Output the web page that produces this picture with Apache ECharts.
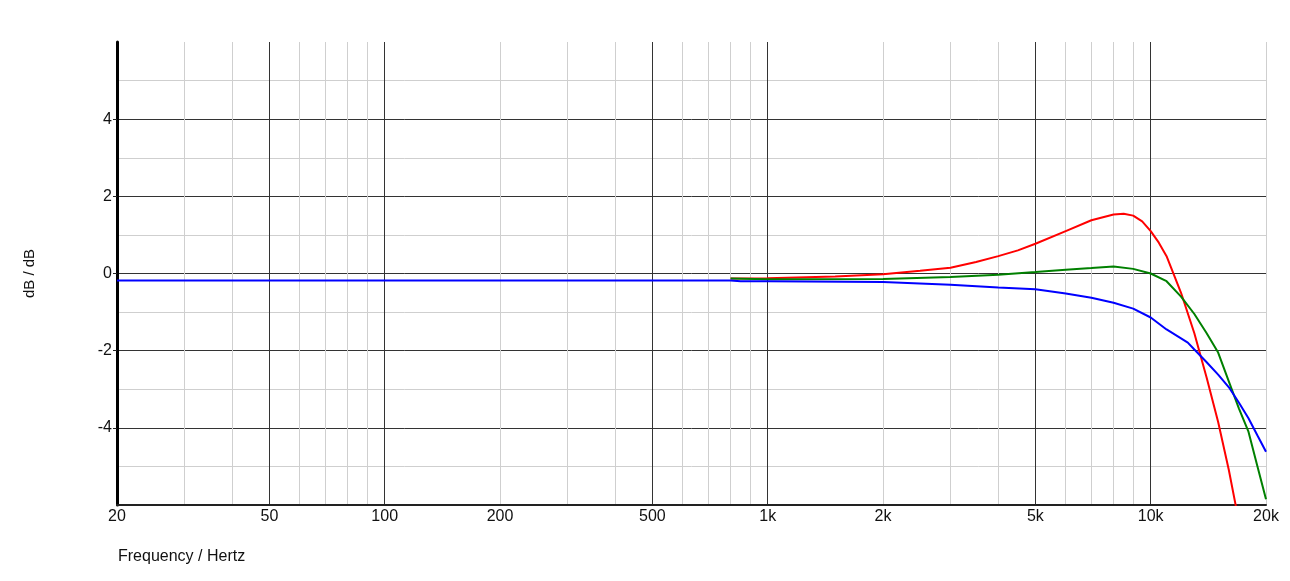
<!DOCTYPE html>
<html>
<head>
<meta charset="utf-8">
<title>Frequency response</title>
<script src="https://cdn.jsdelivr.net/npm/echarts@6/dist/echarts.min.js"></script>
<style>
    html, body { margin: 0; padding: 0; background: #fff; }
    #chart { width: 1290px; height: 581px; }
</style>
</head>
<body>
<div id="chart"></div>
<script>
    // grid lines and tick labels
    var majorFreqs = [50, 100, 500, 1000, 5000, 10000];
    var minorFreqs = [30, 40, 60, 70, 80, 90, 200, 300, 400, 600, 700, 800, 900,
        2000, 3000, 4000, 6000, 7000, 8000, 9000, 20000];
    var labelFreqs = [20, 50, 100, 200, 500, 1000, 2000, 5000, 10000, 20000];
    var yLabels = [-4, -2, 0, 2, 4];

    // red curve
    var redFreq = [800, 1000, 1500, 2000, 2500, 3000, 3500, 4000, 4500, 5000, 6000, 7000, 8000,
        8500, 9000, 9500, 10000, 10500, 11000, 12000, 13000, 14000, 15000, 16000, 16700];
    var redDb = [-0.13, -0.12, -0.08, -0.02, 0.07, 0.15, 0.3, 0.45, 0.6, 0.77, 1.1, 1.38, 1.53,
        1.55, 1.5, 1.35, 1.1, 0.8, 0.45, -0.5, -1.55, -2.7, -3.85, -5.1, -6.05];

    // green curve
    var greenFreq = [800, 1000, 2000, 3000, 4000, 5000, 6000, 7000, 8000, 9000, 10000,
        11000, 12000, 13000, 14000, 15000, 16000, 17000, 18000, 19000, 20000];
    var greenDb = [-0.13, -0.15, -0.14, -0.09, -0.03, 0.04, 0.1, 0.14, 0.18, 0.12, 0.0,
        -0.2, -0.6, -1.05, -1.55, -2.05, -2.8, -3.5, -4.1, -5.0, -5.85];

    // blue curve
    var blueFreq = [20, 800, 850, 1000, 2000, 3000, 4000, 5000, 6000, 7000, 8000, 9000, 10000,
        11000, 12000, 12500, 13000, 14000, 15000, 16000, 17000, 18000, 19000, 20000];
    var blueDb = [-0.18, -0.18, -0.2, -0.2, -0.22, -0.29, -0.36, -0.41, -0.52, -0.63, -0.76, -0.91, -1.14,
        -1.45, -1.68, -1.79, -1.97, -2.3, -2.62, -2.95, -3.35, -3.75, -4.2, -4.62];

    var font = 'Arial, "Liberation Sans", sans-serif';

    function pairs(xs, ys) {
        return xs.map(function (x, i) { return [x, ys[i]]; });
    }

    function freqLabel(v) {
        return v >= 1000 ? (v / 1000) + 'k' : String(v);
    }

    var myChart = echarts.init(document.getElementById('chart'));

    var options = {
        animation: false,
        backgroundColor: '#fff',
        title: {
            text: 'Frequency / Hertz',
            left: 118,
            top: 549,
            padding: 0,
            textStyle: { fontSize: 16, fontWeight: 'normal', color: '#111', fontFamily: font }
        },
        grid: {
            left: 117,
            right: 24,
            top: 42,
            bottom: 76,
            containLabel: false
        },
        xAxis: [
            {
                // minor grid lines only
                type: 'log',
                position: 'bottom',
                min: 20,
                max: 20000,
                axisLine: { show: false },
                axisLabel: { show: false },
                axisTick: { show: false, customValues: minorFreqs },
                splitLine: { show: true, lineStyle: { color: '#cfcfcf', width: 1 } }
            },
            {
                type: 'log',
                position: 'bottom',
                min: 20,
                max: 20000,
                axisLine: { show: true, onZero: false, lineStyle: { color: '#222', width: 2 } },
                axisTick: { show: false, customValues: majorFreqs },
                axisLabel: {
                    show: true,
                    customValues: labelFreqs,
                    formatter: freqLabel,
                    color: '#111',
                    fontSize: 16,
                    fontFamily: font,
                    margin: 4,
                    hideOverlap: false
                },
                splitLine: { show: true, lineStyle: { color: '#333', width: 1 } }
            }
        ],
        yAxis: {
            type: 'value',
            min: -6,
            max: 6,
            interval: 2,
            name: 'dB / dB',
            nameLocation: 'middle',
            nameGap: 80,
            nameTextStyle: { fontSize: 15, color: '#111', fontFamily: font },
            axisLine: { show: true, lineStyle: { color: '#000', width: 3 } },
            axisTick: { show: true, length: 4, customValues: yLabels, lineStyle: { color: '#222' } },
            axisLabel: {
                customValues: yLabels,
                color: '#111',
                fontSize: 16,
                fontFamily: font,
                margin: 5
            },
            splitLine: { show: true, lineStyle: { color: '#333', width: 1 } },
            minorTick: { show: false, splitNumber: 2 },
            minorSplitLine: { show: true, lineStyle: { color: '#cfcfcf', width: 1 } }
        },
        series: [
            {
                name: 'red',
                type: 'line',
                xAxisIndex: 1,
                showSymbol: false,
                clip: true,
                lineStyle: { color: '#ff0000', width: 2 },
                itemStyle: { color: '#ff0000' },
                data: pairs(redFreq, redDb)
            },
            {
                name: 'green',
                type: 'line',
                xAxisIndex: 1,
                showSymbol: false,
                clip: true,
                lineStyle: { color: '#008000', width: 2 },
                itemStyle: { color: '#008000' },
                data: pairs(greenFreq, greenDb)
            },
            {
                name: 'blue',
                type: 'line',
                xAxisIndex: 1,
                showSymbol: false,
                clip: true,
                lineStyle: { color: '#0000ff', width: 2 },
                itemStyle: { color: '#0000ff' },
                data: pairs(blueFreq, blueDb)
            }
        ]
    };
    myChart.setOption(options);
</script>
</body>
</html>
